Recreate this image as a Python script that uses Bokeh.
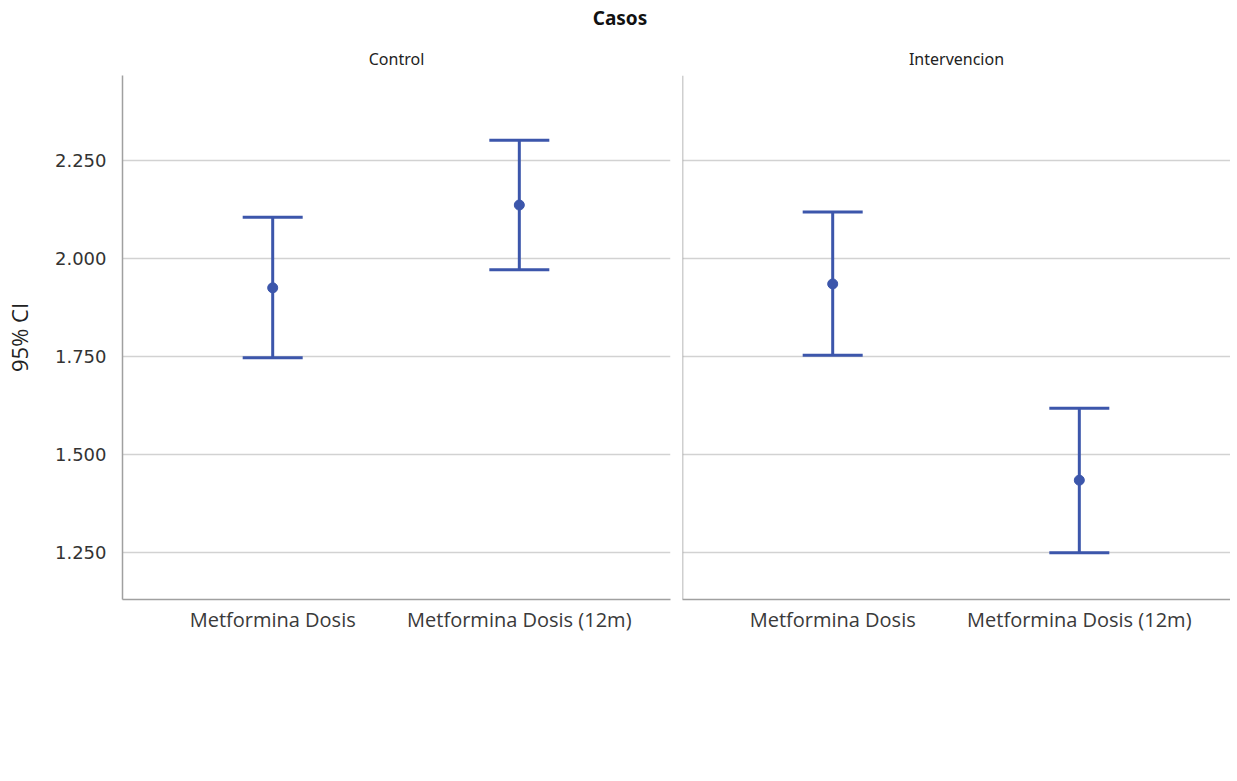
from bokeh.plotting import figure
from bokeh.models import (ColumnDataSource, Whisker, TeeHead, FixedTicker, Range1d, Div, Span)
from bokeh.layouts import column, row
from bokeh.embed import file_html
from bokeh.resources import INLINE

main_title = "Casos"
panels = ["Control", "Intervencion"]
categories = ["Metformina Dosis", "Metformina Dosis (12m)"]
y_label = "95% CI"
y_ticks = [1.25, 1.5, 1.75, 2.0, 2.25]
y_tick_labels = ["1.250", "1.500", "1.750", "2.000", "2.250"]

control_mean = [1.925, 2.136]
control_lower = [1.747, 1.971]
control_upper = [2.105, 2.301]

interv_mean = [1.935, 1.435]
interv_lower = [1.753, 1.250]
interv_upper = [2.118, 1.618]

BLUE = "#3c56ab"
GRID = "#d2d2d2"
AXIS = "#a0a0a0"
X0, X1 = -0.109, 2.113

def make_panel(name, mean, lower, upper, first):
    xpos = [i + 0.5 for i in range(len(categories))]
    src = ColumnDataSource(dict(x=xpos, m=mean, lo=lower, hi=upper))
    w = 676 if first else 554
    p = figure(width=w, height=609, output_backend="svg", toolbar_location=None,
               x_range=Range1d(X0, X1), y_range=Range1d(1.131, 2.466),
               title=name)
    p.min_border_left = 122 if first else 6
    p.min_border_right = 6 if first else 0
    p.min_border_top = 34
    p.min_border_bottom = 50
    p.outline_line_color = None
    p.title.align = "center"
    p.title.text_font = "Noto Sans"
    p.title.text_font_size = "16px"
    p.title.text_font_style = "normal"
    p.title.text_color = "#222222"
    p.title.standoff = 11

    p.xaxis.ticker = FixedTicker(ticks=xpos)
    p.xaxis.major_label_overrides = {x: c for x, c in zip(xpos, categories)}
    p.xaxis.major_label_text_font = "Open Sans"
    p.xaxis.major_label_text_font_size = "20px"
    p.xaxis.major_label_text_color = "#3a3a3a"
    p.xaxis.major_tick_line_color = None
    p.xaxis.minor_tick_line_color = None
    p.xaxis.axis_line_color = AXIS
    p.xaxis.axis_line_width = 1.5
    p.xaxis.major_label_standoff = 0
    p.xgrid.grid_line_color = None

    p.ygrid.grid_line_color = GRID
    p.ygrid.grid_line_width = 1.5
    if first:
        p.yaxis.ticker = FixedTicker(ticks=y_ticks)
        p.yaxis.major_tick_line_color = None
        p.yaxis.minor_tick_line_color = None
        p.yaxis.axis_line_color = AXIS
        p.yaxis.axis_line_width = 1.5
        p.yaxis.major_label_overrides = {t: l for t, l in zip(y_ticks, y_tick_labels)}
        p.yaxis.major_label_text_font = "DejaVu Sans"
        p.yaxis.major_label_text_font_size = "18px"
        p.yaxis.major_label_text_color = "#333333"
        p.yaxis.major_label_standoff = 10
        p.yaxis.axis_label = y_label
        p.yaxis.axis_label_text_font = "Open Sans"
        p.yaxis.axis_label_text_font_size = "22px"
        p.yaxis.axis_label_text_font_style = "normal"
        p.yaxis.axis_label_text_color = "#222222"
        p.yaxis.axis_label_standoff = 18
    else:
        p.yaxis.visible = False
        p.ygrid.ticker = FixedTicker(ticks=y_ticks)
        p.add_layout(Span(location=X0, dimension="height", line_color=AXIS, line_width=1.5))

    wk = Whisker(base="x", upper="hi", lower="lo", source=src, dimension="height",
                 line_color=BLUE, line_width=3,
                 upper_head=TeeHead(size=60, line_color=BLUE, line_width=3),
                 lower_head=TeeHead(size=60, line_color=BLUE, line_width=3))
    p.add_layout(wk)
    p.scatter("x", "m", source=src, size=10, color=BLUE)
    return p

p1 = make_panel(panels[0], control_mean, control_lower, control_upper, True)
p2 = make_panel(panels[1], interv_mean, interv_lower, interv_upper, False)

title = Div(text=main_title, width=1230, height=30,
            styles={"text-align": "center", "font-weight": "bold", "font-size": "19px",
                    "font-family": "Noto Sans", "color": "#111111", "width": "1230px",
                    "padding-top": "0px"})

layout = column(title, row(p1, p2))
open("out.html", "w").write(file_html(layout, INLINE))
